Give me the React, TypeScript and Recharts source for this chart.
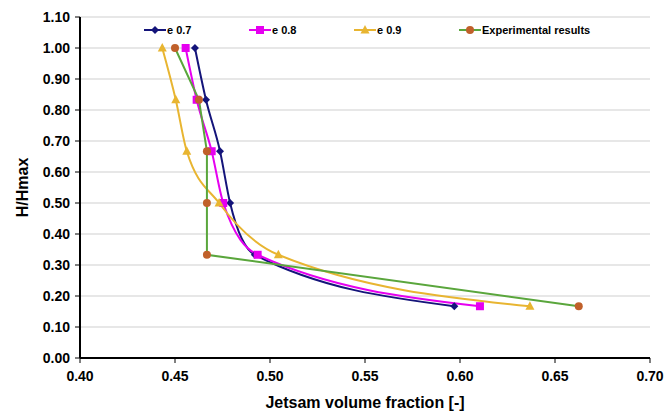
import { LineChart, Line, XAxis, YAxis, CartesianGrid } from 'recharts'

// H/Hmax levels (bottom to top)
const heights = [0.167, 0.333, 0.5, 0.667, 0.833, 1.0]

// jetsam volume fraction per level
const e07 = [0.597, 0.492, 0.479, 0.4737, 0.4663, 0.4605]
const e08 = [0.6105, 0.4935, 0.4754, 0.4693, 0.4614, 0.4556]
const e09 = [0.6368, 0.5044, 0.4732, 0.4562, 0.4504, 0.4433]
const experimental = [0.6625, 0.4668, 0.4668, 0.4668, 0.4626, 0.45]

const xTicks = [0.4, 0.45, 0.5, 0.55, 0.6, 0.65, 0.7]
const yTicks = [0, 0.1, 0.2, 0.3, 0.4, 0.5, 0.6, 0.7, 0.8, 0.9, 1.0, 1.1]

const toPoints = (xs: number[]) => xs.map((x, i) => ({ x, y: heights[i] }))

const FONT = '"Liberation Sans", Arial, sans-serif'

type Shape = 'diamond' | 'square' | 'triangle' | 'circle'

function Marker({ cx, cy, shape, fill }: { cx: number; cy: number; shape: Shape; fill: string }) {
  if (shape === 'diamond') {
    return <polygon points={`${cx},${cy - 4} ${cx + 4},${cy} ${cx},${cy + 4} ${cx - 4},${cy}`} fill={fill} />
  }
  if (shape === 'square') {
    return <rect x={cx - 4} y={cy - 4} width={8} height={8} fill={fill} />
  }
  if (shape === 'triangle') {
    return <polygon points={`${cx},${cy - 5} ${cx + 4.5},${cy + 3.5} ${cx - 4.5},${cy + 3.5}`} fill={fill} />
  }
  return <circle cx={cx} cy={cy} r={4} fill={fill} />
}

const series = [
  { name: 'e 0.7', data: toPoints(e07), line: '#14147a', mark: '#14147a', shape: 'diamond' as Shape, curve: 'monotoneX' },
  { name: 'e 0.8', data: toPoints(e08), line: '#e600f0', mark: '#e600f0', shape: 'square' as Shape, curve: 'monotoneX' },
  { name: 'e 0.9', data: toPoints(e09), line: '#e8b531', mark: '#e8b531', shape: 'triangle' as Shape, curve: 'monotoneX' },
  { name: 'Experimental results', data: toPoints(experimental), line: '#5aa63c', mark: '#c0602a', shape: 'circle' as Shape, curve: 'linear' },
]

function ChartLegend() {
  return (
    <div style={{ position: 'absolute', top: 24, left: 144, display: 'flex', fontFamily: FONT, fontWeight: 700, fontSize: 11, color: '#000', whiteSpace: 'nowrap' }}>
      {series.map(s => (
        <div key={s.name} style={{ width: 105, flexShrink: 0, display: 'flex', alignItems: 'center' }}>
          <svg width={22} height={10} style={{ flexShrink: 0 }}>
            <line x1={0} y1={5} x2={22} y2={5} stroke={s.line} strokeWidth={2} />
            <Marker cx={11} cy={5} shape={s.shape} fill={s.mark} />
          </svg>
          <span style={{ marginLeft: 1 }}>{s.name}</span>
        </div>
      ))}
    </div>
  )
}

export default function App() {
  const tick = { fontFamily: FONT, fontWeight: 700, fontSize: 14, fill: '#000' }
  return (
    <div style={{ position: 'absolute', left: 0, top: 0, width: 667, height: 416, background: '#fff' }}>
      <LineChart width={667} height={416} margin={{ top: 17, right: 17, bottom: 0, left: 0 }}>
        <CartesianGrid horizontal vertical={false} stroke="#cfcfcf" strokeWidth={1} />
        <XAxis
          type="number"
          dataKey="x"
          domain={[0.4, 0.7]}
          ticks={xTicks}
          tickFormatter={v => Number(v).toFixed(2)}
          tick={tick}
          tickSize={5}
          tickMargin={8}
          axisLine={{ stroke: '#000', strokeWidth: 2 }}
          tickLine={{ stroke: '#000' }}
          height={58}
          allowDataOverflow
          label={{ value: 'Jetsam volume fraction [-]', position: 'insideBottom', offset: 8, style: { fontFamily: FONT, fontWeight: 700, fontSize: 16, fill: '#000' } }}
        />
        <XAxis xAxisId="top" orientation="top" type="number" domain={[0.4, 0.7]} height={0} tick={false} tickLine={false} axisLine={{ stroke: '#000', strokeWidth: 2 }} />
        <YAxis
          type="number"
          dataKey="y"
          domain={[0, 1.1]}
          ticks={yTicks}
          tickFormatter={v => Number(v).toFixed(2)}
          tick={tick}
          tickSize={5}
          tickMargin={5}
          axisLine={{ stroke: '#000', strokeWidth: 2 }}
          tickLine={{ stroke: '#000' }}
          width={80}
          allowDataOverflow
          label={{ value: 'H/Hmax', angle: -90, position: 'insideLeft', offset: 22, style: { fontFamily: FONT, fontWeight: 700, fontSize: 16, fill: '#000', textAnchor: 'middle' } }}
        />
        <YAxis yAxisId="right" orientation="right" type="number" domain={[0, 1.1]} width={0} tick={false} tickLine={false} axisLine={{ stroke: '#000', strokeWidth: 1.5 }} />
        {series.map(s => (
          <Line
            key={s.name}
            name={s.name}
            data={s.data}
            dataKey="y"
            type={s.curve as 'monotoneX' | 'linear'}
            stroke={s.line}
            strokeWidth={2}
            isAnimationActive={false}
            dot={(p: any) => <Marker key={`${s.name}-${p.index}`} cx={p.cx} cy={p.cy} shape={s.shape} fill={s.mark} />}
            activeDot={false}
          />
        ))}
      </LineChart>
      <ChartLegend />
    </div>
  )
}
